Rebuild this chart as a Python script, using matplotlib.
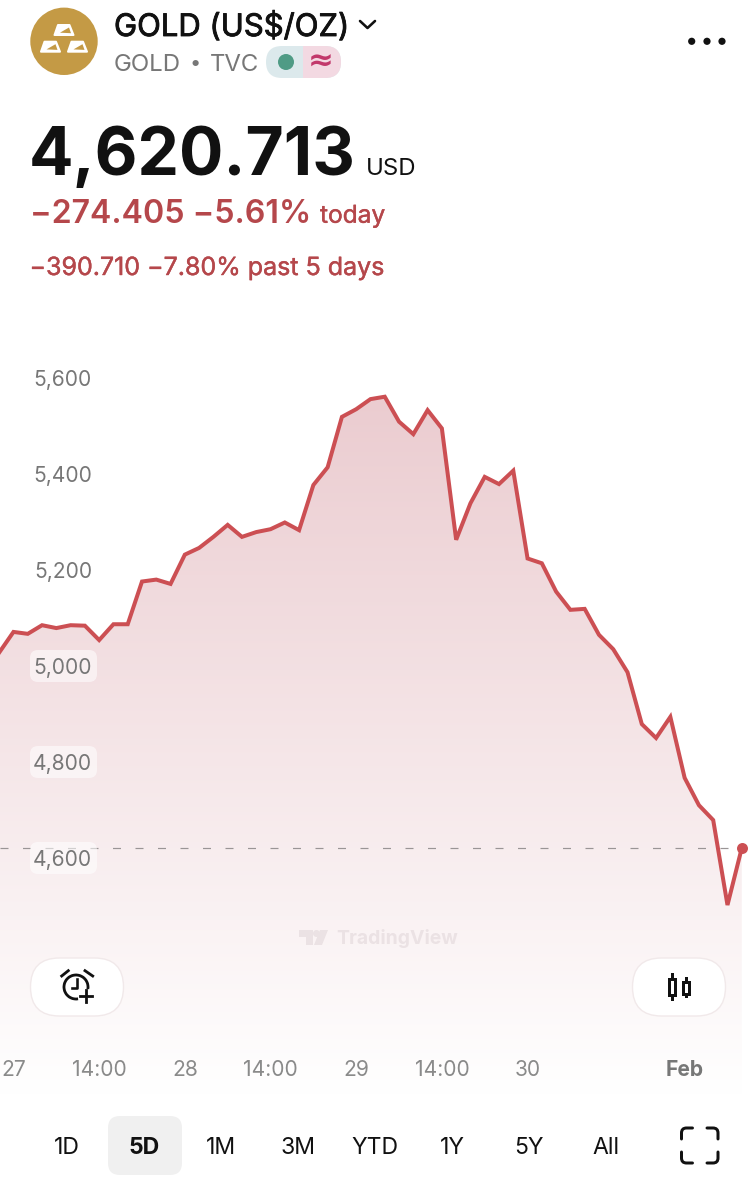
#gold 5 day chart, phone app screenshot
import numpy as np
import matplotlib
matplotlib.use("Agg")
import matplotlib.pyplot as plt
import matplotlib.patheffects as pe
from matplotlib.patches import Circle, FancyBboxPatch, Polygon, Arc, Rectangle, PathPatch
from matplotlib.path import Path
from matplotlib.colors import LinearSegmentedColormap

plt.rcParams['font.family'] = ['Inter', 'DejaVu Sans']

prices = [5028, 5071, 5067, 5085, 5079, 5085, 5084, 5054, 5087, 5087,
          5176, 5180, 5171, 5232, 5246, 5269, 5294, 5269, 5279, 5285,
          5299, 5283, 5377, 5414, 5519, 5535, 5556, 5561, 5509, 5483,
          5533, 5495, 5263, 5339, 5394, 5379, 5407, 5224, 5214, 5155,
          5117, 5119, 5065, 5035, 4987, 4879, 4850, 4894, 4767, 4710,
          4679, 4502, 4620.713]
y_ticks = [5600, 5400, 5200, 5000, 4800, 4600]
y_tick_labels = ['5,600', '5,400', '5,200', '5,000', '4,800', '4,600']
x_tick_pos = [1, 7, 13, 19, 25, 31, 37, 48]
x_tick_labels = ['27', '14:00', '28', '14:00', '29', '14:00', '30', 'Feb']
ranges = ['1D', '5D', '1M', '3M', 'YTD', '1Y', '5Y', 'All']
last_price = 4620.713

W, H = 756, 1200
RED = '#cc4f53'
TXT_RED = '#b5474b'
GRAY = '#777777'
GOLD = '#c49a45'

def pt(px):
    return px * 0.72

def fat(color, w=0.5):
    # Inter has no medium here, so thicken the regular a bit
    return [pe.withStroke(linewidth=w, foreground=color)]

fig = plt.figure(figsize=(W / 100, H / 100), dpi=100, facecolor='white')

# chart axes, pixel rows 300 to 1095
top, bottom = 300, 1095
ax = fig.add_axes([0, 1 - bottom / H, 1, (bottom - top) / H])
ax.set_facecolor('none')
step = 14.28
x0 = -0.8
to_val = lambda y: 5600 - (y - 378) * 200 / 96
for s in ax.spines.values():
    s.set_visible(False)
ax.set_axisbelow(False)

x = np.arange(len(prices))

# gradient under the line
cmap = LinearSegmentedColormap.from_list('fade', ['#ffffff', '#ebccd0'])
grad = np.linspace(1, 0, 256).reshape(-1, 1)
im = ax.imshow(grad, cmap=cmap, vmin=0, vmax=1, aspect='auto', zorder=1,
               extent=[x[0], x[-1], to_val(1095), max(prices)])
clip = Polygon(list(zip(x, prices)) + [(x[-1], to_val(1095)), (x[0], to_val(1095))],
               closed=True, transform=ax.transData, facecolor='none', edgecolor='none')
ax.add_patch(clip)
im.set_clip_path(clip)
ax.set_xlim((0 - x0) / step, (W - x0) / step)
ax.set_ylim(to_val(bottom), to_val(top))

ax.plot([ax.get_xlim()[0], x[-1]], [last_price, last_price], color='#9a9596', lw=pt(1.2),
        ls=(0, (8 / 1.2, 14.5 / 1.2)), zorder=1.8)
ax.plot(x, prices, color=RED, lw=pt(4), solid_joinstyle='miter', zorder=2)
ax.plot(x[-1], prices[-1], 'o', color=RED, ms=pt(11), mew=0, zorder=2.2)

ax.set_yticks(y_ticks)
ax.set_yticklabels(y_tick_labels)
ax.tick_params(axis='y', length=0, pad=pt(-92), labelsize=pt(21), labelcolor=GRAY)

# pale pills behind the lower price labels, drawn in display pixels
for v in y_ticks[3:]:
    yd = ax.transData.transform((1, v))[1]
    ax.add_patch(FancyBboxPatch((30, yd - 16), 67, 32, boxstyle='round,pad=0,rounding_size=8',
                                transform=None, facecolor='white', alpha=0.55, edgecolor='none', zorder=1.9))

ax.set_xticks(x_tick_pos)
ax.set_xticklabels(x_tick_labels)
ax.tick_params(axis='x', length=0, pad=pt(-35), labelsize=pt(21), labelcolor='#8a8a8a')
feb = ax.get_xticklabels()[-1]
feb.set_fontweight('bold')
feb.set_color(GRAY)

# everything else of the app goes on a pixel axes on top
ui = fig.add_axes([0, 0, 1, 1])
ui.set_xlim(0, W)
ui.set_ylim(H, 0)
ui.axis('off')

# logo
ui.add_patch(Circle((64, 41.3), 33.7, color=GOLD, lw=0))
for dx, dy in [(0, 0), (-13.5, 16.7), (13.5, 16.7)]:
    ui.add_patch(Polygon([(54.5 + dx, 35 + dy), (58 + dx, 25 + dy), (69.5 + dx, 25 + dy), (73.5 + dx, 35 + dy)],
                         closed=True, facecolor='white', edgecolor='white', lw=pt(2), joinstyle='round'))
    ui.add_patch(Polygon([(60 + dx, 32.7 + dy), (69 + dx, 27.5 + dy), (71 + dx, 33.2 + dy)],
                         closed=True, facecolor=GOLD, edgecolor='none'))

# header text
ui.text(114, 36, 'GOLD (US$/OZ)', fontsize=pt(31), color='#111111', va='baseline', path_effects=fat('#111111', 0.6))
ui.plot([360, 367.5, 375], [21, 28, 21], color='#111111', lw=pt(2.6), solid_capstyle='round', solid_joinstyle='round')
ui.text(113.5, 70.7, 'GOLD', fontsize=pt(24), color=GRAY, va='baseline')
ui.text(195, 69.5, '•', fontsize=pt(20), color=GRAY, va='baseline', ha='center')
ui.text(210, 70.7, 'TVC', fontsize=pt(24), color=GRAY, va='baseline')

# market status pill
pill_l = FancyBboxPatch((266, 46), 75, 32, boxstyle='round,pad=0,rounding_size=16', facecolor='#dce9ec', edgecolor='none')
ui.add_patch(pill_l)
pill_r = FancyBboxPatch((266, 46), 75, 32, boxstyle='round,pad=0,rounding_size=16', facecolor='#f3d9e2', edgecolor='none')
ui.add_patch(pill_r)
pill_r.set_clip_path(Rectangle((303, 40), 50, 45, transform=ui.transData))
ui.add_patch(Circle((286, 62), 8, color='#4f9b85', lw=0))
ui.text(320.5, 62, '≈', fontsize=pt(31), color='#c2386b', ha='center', va='center', family=['DejaVu Sans'], fontweight='bold')

# three dots
for cx in (691.7, 707, 722):
    ui.add_patch(Circle((cx, 41.3), 3.6, color='#111111', lw=0))

# price block
ui.text(28.5, 175, '4,620.713', fontsize=pt(66), color='#111111', fontweight='bold', va='baseline')
ui.text(366, 175, 'USD', fontsize=pt(24), color='#111111', va='baseline')
ui.text(29.5, 222.7, '−274.405 −5.61%', fontsize=pt(32.2), color=TXT_RED, fontweight='semibold', va='baseline')
ui.text(320, 222.7, 'today', fontsize=pt(24.5), color=TXT_RED, va='baseline', path_effects=fat(TXT_RED, 0.3))
ui.text(29.5, 275, '−390.710 −7.80% past 5 days', fontsize=pt(25), color=TXT_RED, va='baseline', path_effects=fat(TXT_RED, 0.3))

# watermark
wm = '#ebe2e4'
ui.add_patch(Polygon([(299, 930), (313, 930), (313, 945), (306, 945), (306, 937), (299, 937)], closed=True, facecolor=wm, edgecolor='none'))
ui.add_patch(Circle((316.5, 933.5), 3.5, color=wm, lw=0))
ui.add_patch(Polygon([(320, 930), (328, 930), (322, 945), (314, 945)], closed=True, facecolor=wm, edgecolor='none'))
ui.text(336, 944, 'TradingView', fontsize=pt(19.4), color=wm, fontweight='bold', va='baseline')

# round buttons on the chart
for bx in (30.5, 632.5):
    ui.add_patch(FancyBboxPatch((bx, 958), 93, 58, boxstyle='round,pad=0,rounding_size=29',
                                facecolor='white', edgecolor='#f1e9ea', lw=1))

# alarm icon
INK = '#111111'
ui.add_patch(Arc((76, 987), 24, 24, theta1=80, theta2=370, color=INK, lw=pt(2.8)))
ui.plot([61.7, 68.3], [976, 970.7], color=INK, lw=pt(2.8))
ui.plot([85, 92.7], [970.7, 976], color=INK, lw=pt(2.8))
ui.plot([76.7, 76.7, 71.7], [979.3, 987.7, 987.7], color=INK, lw=pt(2.6))
ui.plot([80, 92], [996, 996], color=INK, lw=pt(2.8))
ui.plot([86, 86], [990, 1002], color=INK, lw=pt(2.8))

# candle icon
ui.plot([671.7, 671.7], [974, 999.3], color=INK, lw=pt(3))
ui.add_patch(Rectangle((668.5, 978.5), 6.5, 16.5, facecolor='white', edgecolor=INK, lw=pt(3), zorder=3))
ui.plot([686.3, 686.3], [978, 996], color=INK, lw=pt(3))
ui.add_patch(Rectangle((683.3, 981.7), 6, 12, facecolor='white', edgecolor=INK, lw=pt(3), zorder=3))

# range selector
ui.add_patch(FancyBboxPatch((108, 1116), 74, 59, boxstyle='round,pad=0,rounding_size=12', facecolor='#f0f0f0', edgecolor='none'))
for i, r in enumerate(ranges):
    ui.text(67 + 77 * i, 1154.5, r, fontsize=pt(23), color='#111111', ha='center', va='baseline',
            fontweight='bold' if r == '5D' else 'normal')

# fullscreen corners
l, r_, t, b = 681.5, 718, 1128, 1163
a, c = 11, 5
MO, LI, CU = Path.MOVETO, Path.LINETO, Path.CURVE3
corners = [
    [(l, t + a), (l, t + c), (l, t), (l + c, t), (l + a, t)],
    [(r_ - a, t), (r_ - c, t), (r_, t), (r_, t + c), (r_, t + a)],
    [(l, b - a), (l, b - c), (l, b), (l + c, b), (l + a, b)],
    [(r_ - a, b), (r_ - c, b), (r_, b), (r_, b - c), (r_, b - a)],
]
for pts in corners:
    ui.add_patch(PathPatch(Path(pts, [MO, LI, CU, CU, LI]), facecolor='none', edgecolor=INK, lw=pt(3), capstyle='round'))

fig.savefig('out.png', dpi=100)
